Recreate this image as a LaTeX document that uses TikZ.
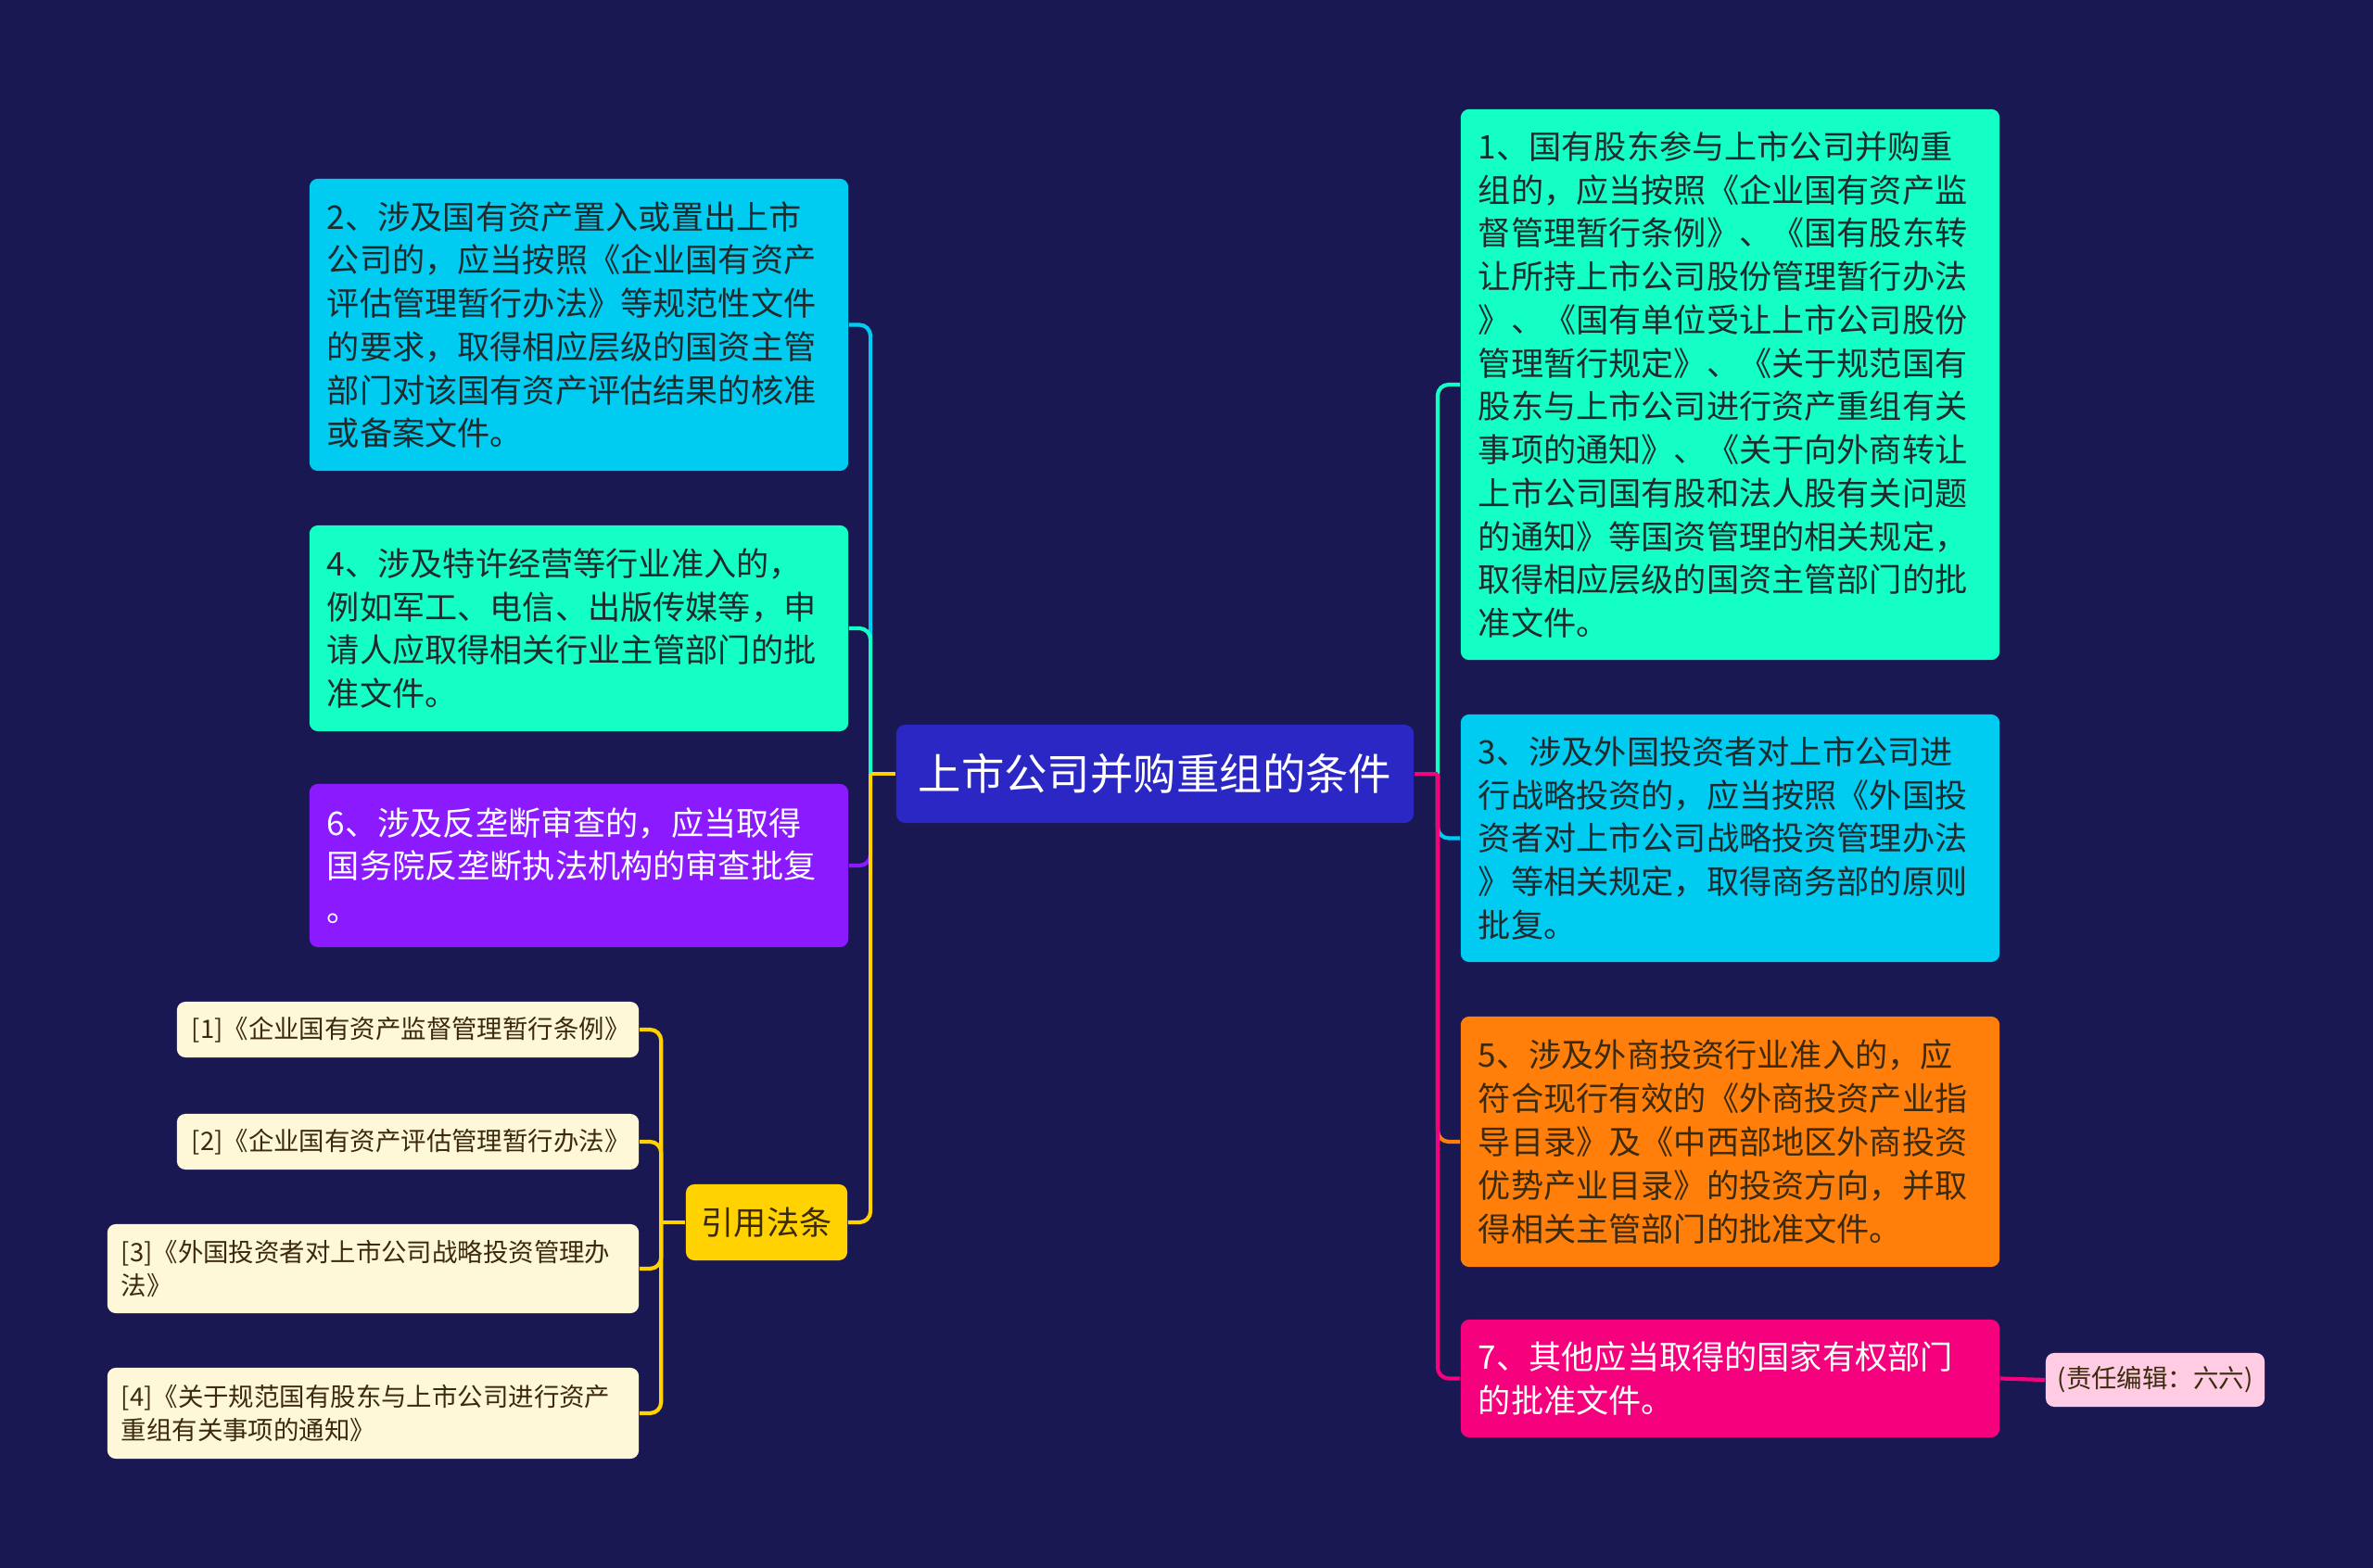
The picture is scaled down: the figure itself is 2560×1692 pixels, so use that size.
\documentclass[tikz,border=0pt]{standalone}
\usepackage{fontspec}
\setmainfont{Noto Sans CJK SC}
\usepackage{xcolor}
\usepackage{tikz}
\definecolor{bgnavy}{HTML}{1A1852}
\definecolor{rootblue}{HTML}{2A27C5}
\definecolor{skycyan}{HTML}{00CCF2}
\definecolor{mint}{HTML}{14FFC5}
\definecolor{violet}{HTML}{8C1AFF}
\definecolor{gold}{HTML}{FFD200}
\definecolor{tangerine}{HTML}{FF7F0A}
\definecolor{rose}{HTML}{F5007D}
\definecolor{cream}{HTML}{FFF8D8}
\definecolor{blush}{HTML}{FFCCE3}
\definecolor{inkdark}{HTML}{1E2B2E}
\definecolor{inkbrown}{HTML}{3B2A0C}

\begin{document}
\begin{tikzpicture}[x=0.01cm,y=-0.01cm,
    box/.style={rounded corners=0.09cm, inner sep=0pt, align=left, minimum width=5.81cm,
        text width=5.43cm, text=inkdark, font=\fontsize{10pt}{13.3pt}\selectfont},
    refbox/.style={rounded corners=0.09cm, inner sep=0pt, align=left, fill=cream, text=inkbrown,
        font=\fontsize{7.8pt}{10.2pt}\selectfont},
    link/.style={line width=1.2pt, rounded corners=0.12cm}]
    \fill[bgnavy] (0,0) rectangle (2560,1692);

    \node[fill=rootblue, text=white, rounded corners=0.1cm, minimum width=5.58cm, minimum height=1.06cm,
        font=\fontsize{13.2pt}{16pt}\selectfont] (root) at (1246,835) {上市公司并购重组的条件};

    \node[box, fill=mint, minimum height=5.94cm] (c1) at (1866.5,415) {1、国有股东参与上市公司并购重\\组的，应当按照《企业国有资产监\\督管理暂行条例》、《国有股东转\\让所持上市公司股份管理暂行办法\\》、《国有单位受让上市公司股份\\管理暂行规定》、《关于规范国有\\股东与上市公司进行资产重组有关\\事项的通知》、《关于向外商转让\\上市公司国有股和法人股有关问题\\的通知》等国资管理的相关规定，\\取得相应层级的国资主管部门的批\\准文件。};
    \node[box, fill=skycyan, minimum height=3.15cm] (c2) at (624.5,350.5) {2、涉及国有资产置入或置出上市\\公司的，应当按照《企业国有资产\\评估管理暂行办法》等规范性文件\\的要求，取得相应层级的国资主管\\部门对该国有资产评估结果的核准\\或备案文件。};
    \node[box, fill=skycyan, minimum height=2.67cm] (c3) at (1866.5,904.5) {3、涉及外国投资者对上市公司进\\行战略投资的，应当按照《外国投\\资者对上市公司战略投资管理办法\\》等相关规定，取得商务部的原则\\批复。};
    \node[box, fill=mint, minimum height=2.22cm] (c4) at (624.5,678) {4、涉及特许经营等行业准入的，\\例如军工、电信、出版传媒等，申\\请人应取得相关行业主管部门的批\\准文件。};
    \node[box, fill=tangerine, text=inkbrown, minimum height=2.7cm] (c5) at (1866.5,1232) {5、涉及外商投资行业准入的，应\\符合现行有效的《外商投资产业指\\导目录》及《中西部地区外商投资\\优势产业目录》的投资方向，并取\\得相关主管部门的批准文件。};
    \node[box, fill=violet, text=white, minimum height=1.76cm] (c6) at (624.5,934) {6、涉及反垄断审查的，应当取得\\国务院反垄断执法机构的审查批复\\。};
    \node[box, fill=rose, text=white, minimum height=1.27cm] (c7) at (1866.5,1487.5) {7、其他应当取得的国家有权部门\\的批准文件。};

    \node[fill=gold, text=inkbrown, rounded corners=0.09cm, minimum width=1.74cm, minimum height=0.82cm,
        font=\fontsize{10pt}{12pt}\selectfont] (laws) at (827,1319) {引用法条};
    \node[refbox, minimum width=4.98cm, minimum height=0.6cm, text width=4.66cm] (r1) at (440,1111) {[1]《企业国有资产监督管理暂行条例》};
    \node[refbox, minimum width=4.98cm, minimum height=0.6cm, text width=4.66cm] (r2) at (440,1232) {[2]《企业国有资产评估管理暂行办法》};
    \node[refbox, minimum width=5.73cm, minimum height=0.96cm, text width=5.43cm] (r3) at (402.5,1369) {[3]《外国投资者对上市公司战略投资管理办\\法》};
    \node[refbox, minimum width=5.73cm, minimum height=0.98cm, text width=5.43cm] (r4) at (402.5,1525) {[4]《关于规范国有股东与上市公司进行资产\\重组有关事项的通知》};

    \node[fill=blush, text=inkbrown, rounded corners=0.09cm, minimum width=2.36cm, minimum height=0.58cm,
        inner sep=0pt, font=\fontsize{7.8pt}{10pt}\selectfont] (editor) at (2325,1489) {(责任编辑：六六)};

    \coordinate (lj) at ([xshift=-0.27cm]root.west);
    \coordinate (rj) at ([xshift=0.25cm]root.east);
    \coordinate (lawj) at ([xshift=-0.26cm]laws.west);

    \draw[link, skycyan] (lj) |- (c2.east);
    \draw[link, mint] (lj) |- (c4.east);
    \draw[link, violet] (lj) |- (c6.east);
    \draw[link, gold] (lj) |- (laws.east);
    \draw[link, gold] (root.west) -- (lj);

    \draw[link, mint] (rj) |- (c1.west);
    \draw[link, skycyan] (rj) |- (c3.west);
    \draw[link, tangerine] (rj) |- (c5.west);
    \draw[link, rose] (rj) |- (c7.west);
    \draw[link, rose] (root.east) -- (rj);

    \draw[link, gold] (laws.west) -- (lawj);
    \foreach \r in {r1,r2,r3,r4}
        \draw[link, gold] (lawj) |- (\r.east);

    \draw[link, rose] (c7.east) -- (editor.west);
\end{tikzpicture}
\end{document}
